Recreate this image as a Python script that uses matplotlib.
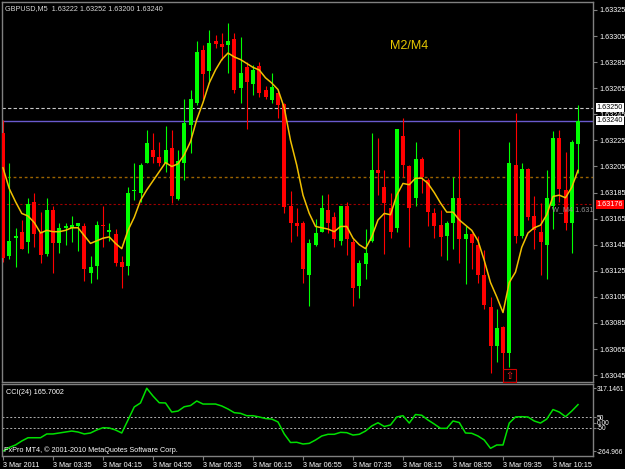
import numpy as np
import matplotlib.pyplot as plt
from matplotlib.patches import Rectangle

plt.rcParams['font.family'] = ['Liberation Sans', 'DejaVu Sans']

W, H = 625, 469

# GBPUSD M5 candles, 3 Mar 2011 02:55 .. 10:35
opens = [1.63231, 1.63136, 1.63150, 1.63155, 1.63147, 1.63178, 1.63154, 1.63138, 1.63172, 1.63146,
         1.63158, 1.63158, 1.63159, 1.63159, 1.63123, 1.63129, 1.63160, 1.63155, 1.63153, 1.63132,
         1.63129, 1.63186, 1.63185, 1.63208, 1.63218, 1.63212, 1.63208, 1.63219, 1.63180, 1.63208,
         1.63237, 1.63254, 1.63294, 1.63278, 1.63301, 1.63299, 1.63298, 1.63303, 1.63265, 1.63281,
         1.63268, 1.63282, 1.63264, 1.63256, 1.63261, 1.63253, 1.63175, 1.63162, 1.63162, 1.63122,
         1.63145, 1.63155, 1.63172, 1.63166, 1.63148, 1.63175, 1.63147, 1.63113, 1.63130, 1.63148,
         1.63202, 1.63189, 1.63173, 1.63158, 1.63228, 1.63205, 1.63181, 1.63211, 1.63195, 1.63169,
         1.63160, 1.63152, 1.63162, 1.63181, 1.63149, 1.63153, 1.63145, 1.63122, 1.63097, 1.63067,
         1.63082, 1.63062, 1.63206, 1.63152, 1.63203, 1.63167, 1.63155, 1.63145, 1.63175, 1.63227,
         1.63187, 1.63162, 1.63222]
highs = [1.63241, 1.63208, 1.63158, 1.63164, 1.63181, 1.63185, 1.63170, 1.63181, 1.63175, 1.63162,
         1.63162, 1.63167, 1.63162, 1.63162, 1.63136, 1.63163, 1.63175, 1.63162, 1.63157, 1.63136,
         1.63189, 1.63208, 1.63208, 1.63233, 1.63231, 1.63224, 1.63236, 1.63233, 1.63218, 1.63257,
         1.63264, 1.63301, 1.63298, 1.63310, 1.63306, 1.63307, 1.63315, 1.63307, 1.63304, 1.63285,
         1.63283, 1.63285, 1.63267, 1.63277, 1.63264, 1.63254, 1.63186, 1.63173, 1.63163, 1.63149,
         1.63165, 1.63183, 1.63184, 1.63170, 1.63175, 1.63178, 1.63149, 1.63133, 1.63157, 1.63231,
         1.63227, 1.63202, 1.63185, 1.63234, 1.63242, 1.63206, 1.63224, 1.63212, 1.63196, 1.63173,
         1.63172, 1.63163, 1.63197, 1.63234, 1.63159, 1.63154, 1.63152, 1.63141, 1.63105, 1.63096,
         1.63083, 1.63224, 1.63246, 1.63208, 1.63204, 1.63182, 1.63177, 1.63202, 1.63232, 1.63233,
         1.63216, 1.63225, 1.63252]
lows = [1.63132, 1.63134, 1.63128, 1.63142, 1.63139, 1.63143, 1.63131, 1.63136, 1.63123, 1.63139,
        1.63145, 1.63147, 1.63140, 1.63117, 1.63116, 1.63119, 1.63143, 1.63148, 1.63129, 1.63112,
        1.63122, 1.63179, 1.63178, 1.63208, 1.63208, 1.63205, 1.63201, 1.63177, 1.63179, 1.63195,
        1.63215, 1.63252, 1.63257, 1.63269, 1.63296, 1.63287, 1.63277, 1.63261, 1.63254, 1.63234,
        1.63260, 1.63258, 1.63257, 1.63254, 1.63242, 1.63169, 1.63147, 1.63152, 1.63116, 1.63098,
        1.63144, 1.63155, 1.63154, 1.63143, 1.63145, 1.63137, 1.63098, 1.63104, 1.63119, 1.63147,
        1.63183, 1.63138, 1.63150, 1.63155, 1.63197, 1.63143, 1.63175, 1.63185, 1.63159, 1.63150,
        1.63136, 1.63133, 1.63142, 1.63131, 1.63115, 1.63126, 1.63116, 1.63096, 1.63047, 1.63055,
        1.63050, 1.63051, 1.63146, 1.63150, 1.63164, 1.63142, 1.63122, 1.63119, 1.63157, 1.63178,
        1.63156, 1.63139, 1.63200]
closes = [1.63135, 1.63148, 1.63152, 1.63142, 1.63176, 1.63153, 1.63137, 1.63172, 1.63146, 1.63158,
          1.63159, 1.63160, 1.63162, 1.63126, 1.63128, 1.63160, 1.63159, 1.63156, 1.63131, 1.63128,
          1.63185, 1.63187, 1.63206, 1.63223, 1.63212, 1.63208, 1.63218, 1.63182, 1.63209, 1.63238,
          1.63257, 1.63293, 1.63276, 1.63300, 1.63299, 1.63297, 1.63301, 1.63264, 1.63277, 1.63270,
          1.63279, 1.63261, 1.63258, 1.63266, 1.63252, 1.63174, 1.63162, 1.63159, 1.63126, 1.63146,
          1.63154, 1.63173, 1.63162, 1.63149, 1.63175, 1.63149, 1.63112, 1.63131, 1.63139, 1.63202,
          1.63200, 1.63177, 1.63155, 1.63234, 1.63206, 1.63173, 1.63211, 1.63197, 1.63170, 1.63159,
          1.63151, 1.63162, 1.63181, 1.63149, 1.63153, 1.63146, 1.63122, 1.63099, 1.63067, 1.63081,
          1.63062, 1.63208, 1.63152, 1.63203, 1.63166, 1.63156, 1.63147, 1.63181, 1.63227, 1.63188,
          1.63162, 1.63224, 1.63240]

# yellow moving average (M2/M4)
ma = [1.63204, 1.63188, 1.63178, 1.63169, 1.63167, 1.63162, 1.63154, 1.63156, 1.63155, 1.63155,
      1.63156, 1.63158, 1.63158, 1.63152, 1.63146, 1.63148, 1.63150, 1.63151, 1.63146, 1.63142,
      1.63156, 1.63166, 1.63179, 1.63187, 1.63194, 1.63201, 1.63208, 1.63205, 1.63207, 1.63214,
      1.63224, 1.63241, 1.63254, 1.63269, 1.63279, 1.63287, 1.63292, 1.63289, 1.63287, 1.63284,
      1.63281, 1.63279, 1.63273, 1.63269, 1.63264, 1.63250, 1.63225, 1.63206, 1.63183, 1.63169,
      1.63159, 1.63158, 1.63157, 1.63155, 1.63159, 1.63159, 1.63150, 1.63145, 1.63142, 1.63151,
      1.63164, 1.63169, 1.63168, 1.63183, 1.63192, 1.63191, 1.63196, 1.63196, 1.63192, 1.63185,
      1.63177, 1.63170, 1.63170, 1.63164, 1.63160, 1.63156, 1.63148, 1.63133, 1.63116, 1.63105,
      1.63093, 1.63116, 1.63124, 1.63143, 1.63154, 1.63158, 1.63160, 1.63168, 1.63182, 1.63183,
      1.63181, 1.63189, 1.63202]

# CCI(24)
cci = [-264.966, -231, -208, -171, -141, -141, -141, -106, -106, -97,
       -88, -79, -88, -106, -97, -69, -48, -51, -69, -97,
       23, 144, 181, 317.1461, 245, 183, 181, 97, 106, 146,
       157, 199, 171, 171, 171, 153, 125, 91, 85, 63,
       63, 51, 37, 32, 5, -106, -185, -183, -199, -193,
       -162, -125, -109, -109, -91, -94, -116, -109, -79, -32,
       -2, -37, -23, 51, 63, -5, 74, 67, 23, -14,
       -54, -54, 14, 0, -97, -100, -125, -162, -239, -208,
       -208, -5, 51, 54, 51, 14, -5, 32, 120, 97,
       54, 106, 165.7002]

time_ticks = [0, 8, 16, 24, 32, 40, 48, 56, 64, 72, 80, 88]
time_labels = ['3 Mar 2011', '3 Mar 03:35', '3 Mar 04:15', '3 Mar 04:55', '3 Mar 05:35', '3 Mar 06:15',
               '3 Mar 06:55', '3 Mar 07:35', '3 Mar 08:15', '3 Mar 08:55', '3 Mar 09:35', '3 Mar 10:15']

price_ticks = [1.63325, 1.63305, 1.63285, 1.63265, 1.63245, 1.63225, 1.63205, 1.63185,
               1.63165, 1.63145, 1.63125, 1.63105, 1.63085, 1.63065, 1.63045]
cci_ticks = [317.1461, 50, 0, -50, -264.966]
cci_tick_labels = ['317.1461', '50', '0.00', '-50', '-264.966']

ask_line = 1.63250
bid_line = 1.63240
orange_level = 1.63197
red_level = 1.63176
arrow_bar = 81

BULL = '#00ff00'
BEAR = '#ff0000'
FRAME = '#808080'
FS = 5.2


def px_rect(left, top, right, bottom):
    return [left / W, 1 - bottom / H, (right - left) / W, (bottom - top) / H]


def style_axes(ax):
    ax.set_facecolor('black')
    for s in ax.spines.values():
        s.set_color(FRAME)
        s.set_linewidth(1)


def price_box(ax, price, text, fc, tc):
    ax.text(1.006, price, text, transform=ax.get_yaxis_transform(), ha='left', va='center',
            fontsize=FS, color=tc, clip_on=False, zorder=10,
            bbox=dict(boxstyle='square,pad=0.12', fc=fc, ec='none'))


def main():
    fig = plt.figure(figsize=(W / 100, H / 100), dpi=100, facecolor='black')
    ax = fig.add_axes(px_rect(2, 2, 593, 382))
    ax2 = fig.add_axes(px_rect(2, 384, 593, 456))
    style_axes(ax)
    style_axes(ax2)

    n = len(closes)
    x = np.arange(n)
    o, h, l, c = (np.array(v) for v in (opens, highs, lows, closes))
    colors = np.where(c >= o, BULL, BEAR)

    # levels -----------------------------------------------------------------------------------------------------------
    ax.axhline(ask_line, color='#c8c8c8', ls=(0, (3, 2)), lw=0.8, zorder=1)
    ax.axhline(bid_line, color='#6a5acd', lw=1, zorder=1)
    ax.axhline(orange_level, color='#9c6400', ls=(0, (2, 2)), lw=1, zorder=1)
    ax.axhline(red_level, color='#a00000', ls=(0, (2, 2)), lw=0.8, zorder=1)

    # candles ----------------------------------------------------------------------------------------------------------
    ax.vlines(x, l, h, colors=colors, lw=0.8, zorder=2)
    body = np.maximum(np.abs(c - o), 0.00001)
    ax.bar(x, body, bottom=np.minimum(o, c), width=0.64, color=colors, zorder=3)
    ax.plot(x, ma, color='#f0c000', lw=1.1, zorder=4)

    ax.set_xlim(-0.16, 94.4)
    ax.set_ylim(1.6303972, 1.6333113)
    ax.yaxis.tick_right()
    ax.set_yticks(price_ticks)
    ax.set_yticklabels([f'{p:.5f}' for p in price_ticks])
    ax.tick_params(axis='y', colors=FRAME, labelcolor='white', labelsize=FS, length=3, width=0.8, pad=1.5)
    ax.tick_params(axis='x', bottom=False, labelbottom=False)

    price_box(ax, ask_line, f'{ask_line:.5f}', 'white', 'black')
    price_box(ax, bid_line, f'{bid_line:.5f}', 'white', 'black')
    price_box(ax, red_level, f'{red_level:.5f}', '#ff0000', 'white')

    ax.text(0.005, 0.984, 'GBPUSD,M5  1.63222 1.63252 1.63200 1.63240', transform=ax.transAxes,
            ha='left', va='center', fontsize=FS, color='#d8d8d8')
    ax.text(0.657, 0.884, 'M2/M4', transform=ax.transAxes, ha='left', va='center', fontsize=9,
            color='#e8c800')
    ax.text(87.8, red_level - 0.00004, 'W_M4 1.63176', ha='left', va='center', fontsize=FS,
            color='#909090', clip_on=True, zorder=5)

    # buy arrow object
    y0 = ax.get_ylim()[0]
    ax.add_patch(Rectangle((arrow_bar - 1.07, y0), 2.14, 0.0000975, fill=False, ec='#d00000', lw=0.8,
                           zorder=6, clip_on=False))
    ax.text(arrow_bar, y0 + 0.0000470, '\u21e7', ha='center', va='center', fontsize=7,
            color='#ff2020', family='DejaVu Sans', zorder=6)

    # CCI --------------------------------------------------------------------------------------------------------------
    ax2.axhline(50, color='#b0b0b0', ls=(0, (2, 2)), lw=0.7)
    ax2.axhline(-50, color='#b0b0b0', ls=(0, (2, 2)), lw=0.7)
    ax2.plot(x, cci, color='#00e000', lw=1.1)
    ax2.set_xlim(-0.16, 94.4)
    ax2.set_ylim(-310, 356.5)
    ax2.yaxis.tick_right()
    ax2.set_yticks(cci_ticks)
    ax2.set_yticklabels(cci_tick_labels)
    ax2.tick_params(axis='y', colors=FRAME, labelcolor='white', labelsize=4.8, length=2, width=0.8, pad=1)
    ax2.set_xticks(time_ticks)
    ax2.set_xticklabels(time_labels, ha='left')
    ax2.tick_params(axis='x', colors=FRAME, labelcolor='white', labelsize=FS, length=3, width=0.8, pad=1)

    ax2.text(0.006, 0.875, f'CCI(24) {cci[-1]:.4f}', transform=ax2.transAxes, ha='left', va='center',
             fontsize=FS, color='white')
    ax2.text(0.003, 0.083, 'FxPro MT4, \u00a9 2001-2010 MetaQuotes Software Corp.', transform=ax2.transAxes,
             ha='left', va='center', fontsize=FS, color='white')

    fig.savefig('out.png', dpi=100, facecolor='black')


if __name__ == "__main__":
    main()
